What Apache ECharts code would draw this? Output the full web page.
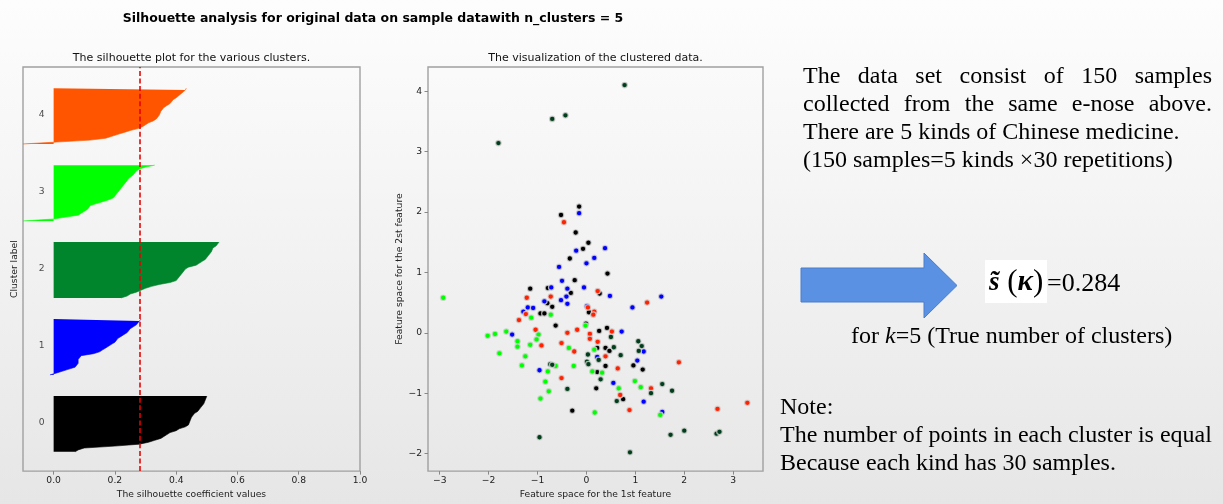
<!DOCTYPE html>
<html>
<head>
<meta charset="utf-8">
<script src="https://cdn.jsdelivr.net/npm/echarts@6/dist/echarts.min.js"></script>
<style>
  html, body { margin: 0; padding: 0; }
  body { width: 1223px; height: 504px; overflow: hidden;
         background: linear-gradient(180deg, #fdfdfd 0%, #f1f1f1 55%, #e6e6e6 100%); }
  #chart { width: 1223px; height: 504px; }
</style>
</head>
<body>
<div id="chart"></div>
<script>
// ---- Silhouette plot data (sorted silhouette values per cluster) ----
const clusterIds = [0, 1, 2, 3, 4];
const silColors = ['#000000', '#0000ff', '#00852d', '#00ff00', '#ff5500'];
const sil0 = [0.07,0.08,0.10,0.20,0.28,0.31,0.33,0.35,0.36,0.37,0.38,0.40,0.41,0.43,0.44,0.44,0.445,0.45,0.45,0.455,0.46,0.47,0.475,0.48,0.485,0.49,0.49,0.495,0.50,0.50];
const sil1 = [-0.012,0.01,0.03,0.05,0.07,0.075,0.08,0.08,0.08,0.085,0.09,0.13,0.15,0.16,0.17,0.18,0.19,0.20,0.205,0.21,0.22,0.23,0.24,0.245,0.25,0.26,0.27,0.275,0.28,0.285];
const sil2 = [0.22,0.24,0.25,0.27,0.285,0.30,0.32,0.345,0.38,0.40,0.405,0.41,0.415,0.42,0.425,0.43,0.44,0.465,0.475,0.485,0.495,0.50,0.505,0.51,0.515,0.52,0.52,0.53,0.535,0.54];
const sil3 = [-0.10,0.0,0.04,0.08,0.09,0.10,0.11,0.115,0.12,0.14,0.16,0.18,0.195,0.20,0.205,0.21,0.215,0.22,0.225,0.23,0.235,0.24,0.245,0.25,0.26,0.265,0.27,0.28,0.30,0.33];
const sil4 = [-0.10,-0.10,0.12,0.17,0.19,0.21,0.23,0.25,0.275,0.29,0.30,0.31,0.325,0.335,0.34,0.345,0.348,0.35,0.355,0.36,0.37,0.38,0.385,0.39,0.40,0.405,0.415,0.42,0.43,0.433];
const silValues = [sil0, sil1, sil2, sil3, sil4];
const avgSilhouette = 0.284;
const silXTicks = [0, 0.2, 0.4, 0.6, 0.8, 1.0];

// ---- Scatter data: first two features, coloured by group ----
const ptsBlack = [[-0.15,2.09],[-0.52,1.95],[-0.22,1.66],[0.04,1.49],[-0.07,1.39],[-0.34,1.23],[0.43,0.98],[-0.24,0.87],[-1.15,0.73],[-0.79,0.74],[-0.32,0.66],[0.27,0.65],[-0.80,0.49],[-0.70,0.43],[-0.94,0.32],[-0.86,0.32],[0.05,0.34],[-0.63,0.12],[-0.01,0.15],[0.42,0.08],[0.26,0.03],[0.22,-0.25],[0.39,-0.25],[0.47,-0.30],[0.39,-0.55],[0.96,-0.54],[1.15,-0.61],[0.22,-0.65],[0.20,-0.92],[0.75,-1.10],[-0.29,-1.29]];
const ptsBlue = [[-0.15,1.98],[-0.21,1.36],[0.38,1.40],[0.16,1.24],[0.0,1.15],[-0.56,1.09],[-0.50,0.86],[-0.05,0.75],[-0.72,0.75],[-0.39,0.73],[-0.41,0.60],[0.48,0.61],[1.53,0.60],[-1.20,0.42],[-1.09,0.41],[-0.86,0.52],[-0.52,0.54],[-0.39,0.48],[-1.29,0.35],[0.01,0.44],[0.94,0.42],[0.72,0.02],[-1.52,-0.03],[1.17,-0.31],[0.22,-0.40],[1.04,-0.46],[-0.96,-0.62],[0.55,-0.83],[1.17,-1.14],[1.55,-1.31]];
const ptsRed = [[-0.46,1.83],[-0.73,0.60],[0.23,0.69],[1.24,0.50],[-1.22,0.58],[-1.24,0.31],[-1.38,0.21],[0.03,0.42],[0.16,0.35],[0.14,0.30],[0.52,0.02],[-1.04,0.05],[-0.19,0.05],[-0.39,0.0],[-0.92,-0.21],[-0.51,-0.17],[0.07,-0.02],[0.07,-0.10],[0.23,-0.15],[-0.25,-0.31],[0.39,-0.39],[0.64,-0.59],[1.89,-0.49],[-0.51,-0.75],[1.32,-0.92],[0.69,-1.03],[3.29,-1.16],[0.88,-1.28],[2.68,-1.26]];
const ptsLime = [[-2.93,0.58],[-0.73,0.30],[-1.13,0.25],[-0.02,0.12],[-1.64,0.02],[-1.87,-0.02],[-2.02,-0.05],[-0.98,-0.03],[-1.41,-0.14],[-1.41,-0.23],[-1.02,-0.11],[-1.15,-0.20],[-0.36,-0.25],[0.16,-0.28],[-1.78,-0.34],[-1.25,-0.39],[-1.32,-0.54],[-0.63,-0.55],[-0.26,-0.55],[-0.79,-0.64],[0.12,-0.64],[0.32,-0.66],[-0.84,-0.81],[0.99,-0.80],[0.66,-0.92],[1.11,-0.90],[-0.77,-0.97],[-0.94,-1.09],[0.17,-1.32],[1.51,-1.36]];
const ptsDarkGreen = [[0.78,4.10],[-0.70,3.54],[-0.43,3.60],[-1.80,3.14],[0.50,-0.07],[0.56,-0.24],[1.06,-0.14],[1.13,-0.22],[1.07,-0.30],[0.03,-0.36],[0.25,-0.45],[0.70,-0.37],[0.01,-0.48],[0.04,-0.52],[-0.74,-0.52],[-0.70,-0.53],[0.29,-0.77],[1.55,-0.85],[-0.39,-0.93],[1.32,-1.0],[1.75,-0.96],[0.62,-1.13],[2.0,-1.62],[2.66,-1.67],[2.72,-1.64],[1.72,-1.69],[-0.96,-1.73],[0.89,-1.98]];
const scatterGroups = [ptsBlack, ptsBlue, ptsRed, ptsLime, ptsDarkGreen];
const scatterColors = ['#000000', '#0000ff', '#ff2200', '#00ff00', '#003d1a'];
const featXTicks = [-3, -2, -1, 0, 1, 2, 3];
const featYTicks = [-2, -1, 0, 1, 2, 3, 4];

// ---- Texts ----
const mainTitle = 'Silhouette analysis for original data on sample datawith n_clusters = 5';
const silTitle = 'The silhouette plot for the various clusters.';
const scatterTitle = 'The visualization of the clustered data.';
const silXName = 'The silhouette coefficient values';
const silYName = 'Cluster label';
const featXName = 'Feature space for the 1st feature';
const featYName = 'Feature space for the 2st feature';
const infoLines = ['The data set consist of 150 samples', 'collected from the same e-nose above.',
                   'There are 5 kinds of Chinese medicine.', '(150 samples=5 kinds \u00d730 repetitions)'];
const noteLines = ['Note:', 'The number of points in each cluster is equal', 'Because each kind has 30 samples.'];
const scoreText = '=0.284';

// ---- Helpers ----
const SERIF = "'Liberation Serif', 'Times New Roman', serif";
const SANS = "'DejaVu Sans', sans-serif";
const measureCtx = document.createElement('canvas').getContext('2d');
function textWidth(str, font) { measureCtx.font = font; return measureCtx.measureText(str).width; }

function textEl(str, x, y, font, extra) {
  return Object.assign({ type: 'text', x: x, y: y, z: 10,
    style: Object.assign({ text: str, font: font, fill: '#000', verticalAlign: 'middle', align: 'left' }, extra || {}) });
}
// Lay out one line so it fills a given width (justified), word by word
function justifiedLine(str, x0, width, y, font) {
  const words = str.split(' ');
  const widths = words.map(w => textWidth(w, font));
  const gap = (width - widths.reduce((a, b) => a + b, 0)) / (words.length - 1);
  const els = [];
  let x = x0;
  words.forEach((w, i) => { els.push(textEl(w, x, y, font)); x += widths[i] + gap; });
  return els;
}

const bodyFont = '24px ' + SERIF;
const graphics = [];
// paragraph on the upper right
graphics.push(...justifiedLine(infoLines[0], 803, 409, 77, bodyFont));
graphics.push(...justifiedLine(infoLines[1], 803, 409, 105, bodyFont));
graphics.push(textEl(infoLines[2], 803, 133, bodyFont));
graphics.push(textEl(infoLines[3], 803, 161, bodyFont));
// block arrow
graphics.push({ type: 'polygon', z: 10,
  shape: { points: [[801, 268], [924, 268], [924, 253], [957, 285.5], [924, 318], [924, 302], [801, 302]] },
  style: { fill: '#5b91e2', stroke: '#4a7cca', lineWidth: 1 } });
// formula with white background
graphics.push({ type: 'rect', z: 9, shape: { x: 985, y: 260, width: 62, height: 43 }, style: { fill: '#ffffff' } });
graphics.push({ type: 'text', x: 989, y: 283, z: 10, style: {
  text: '{s|s\u0303}{p| (}{k|\u03ba}{p|)}', verticalAlign: 'middle', align: 'left',
  rich: { s: { font: 'italic bold 27px ' + SERIF, fill: '#000' },
          p: { font: '31px ' + SERIF, fill: '#000' },
          k: { font: 'italic bold 29px ' + SERIF, fill: '#000' } } } });
graphics.push(textEl(scoreText, 1047, 284, '26px ' + SERIF));
// "for k=5 (...)"
graphics.push({ type: 'text', x: 851, y: 337, z: 10, style: {
  text: '{n|for }{i|k}{n|=5 (True number of clusters)}', verticalAlign: 'middle', align: 'left',
  rich: { n: { font: bodyFont, fill: '#000' }, i: { font: 'italic 24px ' + SERIF, fill: '#000' } } } });
// note block
noteLines.forEach((s, i) => graphics.push(textEl(s, 780, 408 + i * 27.8, bodyFont)));

// ---- Series ----
const yCats = Array.from({ length: 211 }, (_, i) => String(i));
const series = [];
clusterIds.forEach(k => {
  const yLower = 10 + k * 40;
  const s = {
    type: 'line', xAxisIndex: 0, yAxisIndex: 0, name: 'cluster ' + k,
    data: silValues[k].map((v, i) => [v, yLower + i]),
    showSymbol: false, symbol: 'none', silent: true,
    lineStyle: { color: silColors[k], width: 0.6 },
    areaStyle: { color: silColors[k], opacity: 1 },
    z: 2
  };
  if (k === 4) {
    s.markLine = {
      silent: true, symbol: 'none', z: 5,
      label: { show: false },
      lineStyle: { color: 'rgba(232,0,0,0.78)', type: [5, 2.6], width: 2 },
      data: [{ xAxis: avgSilhouette }]
    };
  }
  series.push(s);
});
// cluster number labels beside each silhouette
series.push({
  type: 'scatter', xAxisIndex: 0, yAxisIndex: 0, silent: true,
  data: clusterIds.map(k => [-0.05, 10 + k * 40 + 15, k]),
  symbol: 'circle', symbolSize: 1, itemStyle: { color: 'rgba(0,0,0,0)' },
  label: { show: true, position: 'right', distance: 0, formatter: p => String(p.value[2]),
           fontFamily: SANS, fontSize: 9.2, color: '#222' }
});
scatterGroups.forEach((pts, g) => {
  series.push({
    type: 'scatter', xAxisIndex: 1, yAxisIndex: 1, silent: true,
    data: pts, symbol: 'circle', symbolSize: 5.5,
    itemStyle: { color: scatterColors[g], borderColor: 'rgba(210,210,210,0.8)', borderWidth: 1.2, opacity: 1 },
    z: 3
  });
});

const tickLabel = { fontFamily: SANS, fontSize: 9.2, color: '#222' };
const nameStyle = { fontFamily: SANS, fontSize: 9.2, color: '#222' };
const minusFmt = v => (v < 0 ? '\u2212' : '') + Math.abs(v);

const option = {
  animation: false,
  backgroundColor: 'transparent',
  title: [
    { text: mainTitle, left: 373, top: 11, padding: 0, textAlign: 'center',
      textStyle: { fontFamily: SANS, fontWeight: 'bold', fontSize: 12.5, lineHeight: 15, color: '#000' } },
    { text: silTitle, left: 191.5, top: 51.5, padding: 0, textAlign: 'center',
      textStyle: { fontFamily: SANS, fontWeight: 'normal', fontSize: 11, lineHeight: 13, color: '#111' } },
    { text: scatterTitle, left: 595.5, top: 51.5, padding: 0, textAlign: 'center',
      textStyle: { fontFamily: SANS, fontWeight: 'normal', fontSize: 11, lineHeight: 13, color: '#111' } }
  ],
  grid: [
    { left: 23, top: 67, width: 337, height: 406, show: true, borderColor: '#a0a0a0', borderWidth: 1.4, backgroundColor: 'transparent' },
    { left: 428, top: 67, width: 335, height: 406, show: true, borderColor: '#a0a0a0', borderWidth: 1.4, backgroundColor: 'transparent' }
  ],
  xAxis: [
    { gridIndex: 0, type: 'value', min: -0.1, max: 1.0,
      name: silXName, nameLocation: 'middle', nameGap: 18, nameTextStyle: nameStyle,
      axisLine: { show: false, onZero: false }, splitLine: { show: false },
      axisTick: { show: true, length: 3.5, customValues: silXTicks, lineStyle: { color: '#888' } },
      axisLabel: { ...tickLabel, margin: 5, customValues: silXTicks, formatter: v => v.toFixed(1) } },
    { gridIndex: 1, type: 'value', min: -3.24, max: 3.61,
      name: featXName, nameLocation: 'middle', nameGap: 18, nameTextStyle: nameStyle,
      axisLine: { show: false, onZero: false }, splitLine: { show: false },
      axisTick: { show: true, length: 3.5, customValues: featXTicks, lineStyle: { color: '#888' } },
      axisLabel: { ...tickLabel, margin: 5, customValues: featXTicks, formatter: minusFmt } }
  ],
  yAxis: [
    { gridIndex: 0, type: 'category', data: yCats, boundaryGap: false,
      name: silYName, nameLocation: 'middle', nameGap: 4, nameTextStyle: nameStyle,
      axisLine: { show: false, onZero: false }, axisTick: { show: false }, axisLabel: { show: false },
      splitLine: { show: false } },
    { gridIndex: 1, type: 'value', min: -2.29, max: 4.40,
      name: featYName, nameLocation: 'middle', nameGap: 24, nameTextStyle: nameStyle,
      axisLine: { show: false, onZero: false }, splitLine: { show: false },
      axisTick: { show: true, length: 3.5, customValues: featYTicks, lineStyle: { color: '#888' } },
      axisLabel: { ...tickLabel, margin: 6, customValues: featYTicks, formatter: minusFmt } }
  ],
  series: series,
  graphic: { elements: graphics }
};

const chart = echarts.init(document.getElementById('chart'), null, { renderer: 'canvas' });
chart.setOption(option);
</script>
</body>
</html>
